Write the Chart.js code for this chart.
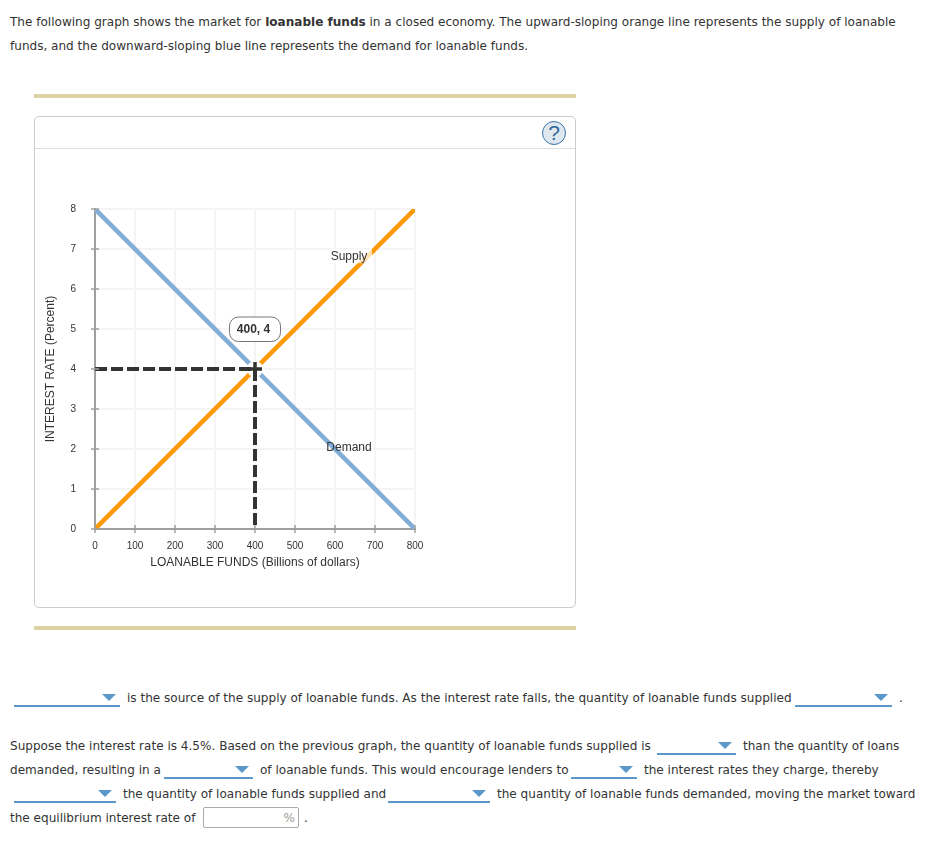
<!DOCTYPE html>
<html>
<head>
<meta charset="utf-8">
<script src="https://cdn.jsdelivr.net/npm/chart.js@4"></script>
<style>
html, body { margin: 0; padding: 0; background: #fff; }
body { position: relative; width: 925px; height: 846px; overflow: hidden; font-family: "DejaVu Sans", sans-serif; font-size: 12.06px; color: #333; }
.t { position: absolute; white-space: nowrap; line-height: 16px; }
.rule { position: absolute; left: 34px; width: 542px; height: 4px; background: #ddd2a4; }
.card { position: absolute; left: 34px; top: 116px; width: 540px; height: 490px; border: 1px solid #ccc; border-radius: 5px; box-sizing: content-box; }
.head { position: absolute; left: 35px; top: 148px; width: 540px; height: 1px; background: #ddd; }
.help { position: absolute; left: 542px; top: 121px; width: 22px; height: 22px; border: 1px solid #3b73a8; border-radius: 50%; background: #dfe7ef; color: #2f6699; font: 21px/22px "Liberation Sans", sans-serif; text-align: center; }
canvas { position: absolute; left: 35px; top: 149px; }
.dd { position: absolute; height: 0; border-bottom: 2px solid #5b97c9; }
.dd:after { content: ""; position: absolute; right: 4px; bottom: 4px; border-left: 7px solid transparent; border-right: 7px solid transparent; border-top: 7px solid #5b97c9; }
.box { position: absolute; left: 203px; top: 807px; width: 94px; height: 19px; border: 1px solid #aaa; border-radius: 2px; color: #999; text-align: right; line-height: 20px; box-sizing: content-box; }
.box span { padding-right: 3px; }
</style>
</head>
<body>
<div class="t" style="left:10px;top:14px">The following graph shows the market for <b>loanable funds</b> in a closed economy. The upward-sloping orange line represents the supply of loanable</div>
<div class="t" style="left:10px;top:38px">funds, and the downward-sloping blue line represents the demand for loanable funds.</div>

<div class="rule" style="top:94px"></div>
<div class="card"></div>
<div class="head"></div>
<div class="help">?</div>
<canvas id="myChart" width="540" height="457" style="width:540px;height:457px"></canvas>
<div class="rule" style="top:626px"></div>

<div class="dd" style="left:14px;top:705px;width:106px"></div>
<div class="t" style="left:127px;top:690px">is the source of the supply of loanable funds. As the interest rate falls, the quantity of loanable funds supplied</div>
<div class="dd" style="left:795px;top:705px;width:97px"></div>
<div class="t" style="left:899px;top:690px">.</div>

<div class="t" style="left:10px;top:738px">Suppose the interest rate is 4.5%. Based on the previous graph, the quantity of loanable funds supplied is</div>
<div class="dd" style="left:657px;top:753px;width:79px"></div>
<div class="t" style="left:743px;top:738px">than the quantity of loans</div>

<div class="t" style="left:10px;top:762px">demanded, resulting in a</div>
<div class="dd" style="left:164px;top:777px;width:89px"></div>
<div class="t" style="left:260px;top:762px">of loanable funds. This would encourage lenders to</div>
<div class="dd" style="left:571px;top:777px;width:66px"></div>
<div class="t" style="left:644px;top:762px">the interest rates they charge, thereby</div>

<div class="dd" style="left:14px;top:801px;width:102px"></div>
<div class="t" style="left:123px;top:786px">the quantity of loanable funds supplied and</div>
<div class="dd" style="left:388px;top:801px;width:102px"></div>
<div class="t" style="left:497px;top:786px">the quantity of loanable funds demanded, moving the market toward</div>

<div class="t" style="left:10px;top:810px">the equilibrium interest rate of</div>
<div class="box"><span>%</span></div>
<div class="t" style="left:304px;top:810px">.</div>

<script>
var xTicks = [0, 100, 200, 300, 400, 500, 600, 700, 800];
var yTicks = [0, 1, 2, 3, 4, 5, 6, 7, 8];
var supplyX = [0, 800];
var supplyY = [0, 8];
var demandX = [0, 800];
var demandY = [8, 0];
var guideX = [0, 400, 400];
var guideY = [4, 4, 0];
var eqX = [400];
var eqY = [4];

function pairs(xs, ys) {
    return xs.map(function (x, i) { return { x: x, y: ys[i] }; });
}

// tick marks that cross the axis, curve names and the value bubble
var extras = {
    id: 'extras',
    afterDatasetsDraw: function (chart) {
        var c = chart.ctx, sx = chart.scales.x, sy = chart.scales.y;
        var a = chart.chartArea;
        c.save();
        c.strokeStyle = '#a0a0a0';
        c.lineWidth = 1.5;
        xTicks.forEach(function (v) {
            var p = sx.getPixelForValue(v);
            c.beginPath(); c.moveTo(p, a.bottom - 4); c.lineTo(p, a.bottom + 4); c.stroke();
        });
        yTicks.forEach(function (v) {
            var p = sy.getPixelForValue(v);
            c.beginPath(); c.moveTo(a.left - 4, p); c.lineTo(a.left + 4, p); c.stroke();
        });

        c.font = '12px "Liberation Sans", sans-serif';
        c.textAlign = 'center';
        c.textBaseline = 'middle';
        var lx = sx.getPixelForValue(635), ly = sy.getPixelForValue(6.82);
        // the Supply label has a pale box that washes out the line behind it
        c.fillStyle = 'rgba(255,255,255,0.7)';
        c.fillRect(lx - 20, ly - 7, 43, 14);
        c.fillStyle = '#333';
        c.fillText('Supply', lx, ly);
        c.fillText('Demand', sx.getPixelForValue(635), sy.getPixelForValue(2.03));

        // bubble sits above and left of the equilibrium point
        var px = sx.getPixelForValue(eqX[0]), py = sy.getPixelForValue(eqY[0]);
        c.beginPath();
        c.roundRect(px - 25.5, py - 52, 51, 24.5, 9);
        c.fillStyle = '#fff';
        c.fill();
        c.strokeStyle = '#777';
        c.lineWidth = 1;
        c.stroke();
        c.fillStyle = '#333';
        c.font = 'bold 12px "Liberation Sans", sans-serif';
        c.fillText(eqX[0] + ', ' + eqY[0], px - 1.5, py - 39.5);
        c.restore();
    }
};

var ctx = document.getElementById("myChart");
var myChart = new Chart(ctx, {
    type: 'line',
    data: {
        datasets: [{
            label: 'Demand',
            data: pairs(demandX, demandY),
            borderColor: '#80aed8',
            borderWidth: 4.5,
            borderCapStyle: 'butt',
            pointRadius: 0,
            order: 4
        }, {
            label: 'Supply',
            data: pairs(supplyX, supplyY),
            borderColor: '#fb9a05',
            borderWidth: 4.5,
            borderCapStyle: 'butt',
            pointRadius: 0,
            order: 3
        }, {
            label: 'Halo',
            data: pairs(eqX, eqY),
            showLine: false,
            pointRadius: 8,
            pointBorderWidth: 0,
            pointBackgroundColor: '#fff',
            order: 2
        }, {
            label: 'Equilibrium',
            data: pairs(guideX, guideY),
            borderColor: '#333',
            borderWidth: 4,
            borderDash: [12, 4],
            pointRadius: 0,
            order: 1
        }, {
            label: 'Point',
            data: pairs(eqX, eqY),
            showLine: false,
            pointStyle: 'cross',
            pointRadius: 7,
            pointBorderWidth: 3.5,
            pointBorderColor: '#333',
            pointBackgroundColor: '#333',
            order: 0
        }]
    },
    options: {
        responsive: false,
        animation: false,
        devicePixelRatio: 1,
        layout: { padding: { left: 8, top: 60, right: 160, bottom: 36 } },
        plugins: { legend: { display: false }, tooltip: { enabled: false } },
        scales: {
            x: {
                type: 'linear',
                min: 0,
                max: 800,
                afterBuildTicks: function (s) { s.ticks = xTicks.map(function (v) { return { value: v }; }); },
                afterFit: function (s) { s.height = 41; },
                ticks: { color: '#333', font: { size: 10, family: '"Liberation Sans", sans-serif' }, padding: 11, maxRotation: 0, autoSkip: false },
                grid: { color: '#f5f5f5', lineWidth: 2, drawTicks: false },
                border: { color: '#a0a0a0', width: 2 },
                title: { display: true, text: 'LOANABLE FUNDS (Billions of dollars)', color: '#333', padding: { top: 3, bottom: 0 }, font: { size: 12, family: '"Liberation Sans", sans-serif' } }
            },
            y: {
                type: 'linear',
                min: 0,
                max: 8,
                afterBuildTicks: function (s) { s.ticks = yTicks.map(function (v) { return { value: v }; }); },
                afterFit: function (s) { s.width = 52; },
                ticks: { color: '#333', font: { size: 10, family: '"Liberation Sans", sans-serif' }, padding: 19, autoSkip: false },
                grid: { color: '#f5f5f5', lineWidth: 2, drawTicks: false },
                border: { color: '#a0a0a0', width: 2 },
                title: { display: true, text: 'INTEREST RATE (Percent)', color: '#333', padding: { top: 0, bottom: 8 }, font: { size: 12, family: '"Liberation Sans", sans-serif' } }
            }
        }
    },
    plugins: [extras]
});
</script>
</body>
</html>
